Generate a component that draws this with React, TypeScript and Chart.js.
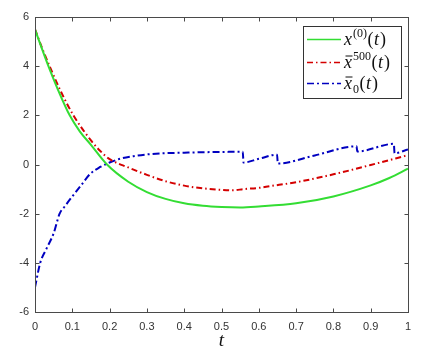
import React, { useEffect, useRef } from "react";
import { Chart, registerables } from "chart.js";

Chart.register(...registerables);

// ---- data ----
const xTicks = [0, 0.1, 0.2, 0.3, 0.4, 0.5, 0.6, 0.7, 0.8, 0.9, 1];
const xTickLabels = ["0", "0.1", "0.2", "0.3", "0.4", "0.5", "0.6", "0.7", "0.8", "0.9", "1"];
const yTicks = [-6, -4, -2, 0, 2, 4, 6];
const yTickLabels = ["-6", "-4", "-2", "0", "2", "4", "6"];

// x^(0)(t)
const tX0 = [0, 0.02, 0.036, 0.06, 0.093, 0.12, 0.15, 0.193, 0.25, 0.3, 0.35, 0.4, 0.45, 0.5, 0.55, 0.6, 0.7, 0.8, 0.9, 0.95, 1];
const valX0 = [5.5, 4.65, 4.0, 3.1, 2.0, 1.35, 0.8, 0.0, -0.7, -1.12, -1.4, -1.58, -1.68, -1.73, -1.75, -1.71, -1.58, -1.3, -0.85, -0.55, -0.17];

// xbar^500(t)
const tBar500 = [0, 0.02, 0.039, 0.07, 0.103, 0.15, 0.175, 0.2, 0.25, 0.3, 0.35, 0.4, 0.45, 0.5, 0.53, 0.56, 0.6, 0.63, 0.7, 0.8, 0.9, 1];
const valBar500 = [5.5, 4.7, 4.0, 2.95, 2.0, 0.98, 0.55, 0.22, -0.12, -0.42, -0.68, -0.86, -0.97, -1.03, -1.05, -1.0, -0.95, -0.88, -0.72, -0.4, -0.02, 0.38];

// xbar_0(t)
const tBar0 = [0, 0.014, 0.03, 0.05, 0.066, 0.08, 0.1, 0.125, 0.148, 0.175, 0.2, 0.23, 0.264, 0.3, 0.335, 0.4, 0.45, 0.5, 0.557, 0.559, 0.6, 0.649, 0.651, 0.75, 0.862, 0.864, 0.962, 0.964, 1];
const valBar0 = [-5.0, -4.0, -3.45, -2.8, -2.0, -1.7, -1.3, -0.82, -0.38, -0.1, 0.08, 0.24, 0.34, 0.41, 0.45, 0.48, 0.5, 0.51, 0.52, 0.08, 0.23, 0.4, 0.04, 0.37, 0.74, 0.53, 0.84, 0.46, 0.61];

const seriesColors = ["#33dd33", "#d40000", "#0000c0"];
const seriesDashes: number[][] = [[], [6, 3, 1.5, 3], [7, 3, 2, 3]];

const axisLabel = "t";

const toPts = (t: number[], v: number[]) => t.map((x, i) => ({ x, y: v[i] }));

// legend: parts of each math label
type Part = { t: string; kind: "it" | "up" | "sup" | "sub"; bar?: boolean };
const legendParts: Part[][] = [
  [{ t: "x", kind: "it" }, { t: "(0)", kind: "sup" }, { t: "(", kind: "up" }, { t: "t", kind: "it" }, { t: ")", kind: "up" }],
  [{ t: "x", kind: "it", bar: true }, { t: "500", kind: "sup" }, { t: "(", kind: "up" }, { t: "t", kind: "it" }, { t: ")", kind: "up" }],
  [{ t: "x", kind: "it", bar: true }, { t: "0", kind: "sub" }, { t: "(", kind: "up" }, { t: "t", kind: "it" }, { t: ")", kind: "up" }],
];

const SERIF = '"Liberation Serif", "DejaVu Serif", serif';
const fonts = {
  it: `italic 18px ${SERIF}`,
  up: `18px ${SERIF}`,
  sup: `12px ${SERIF}`,
  sub: `12px ${SERIF}`,
};

const axesPlugin = {
  id: "matlabAxes",
  afterDatasetsDraw(chart: any) {
    const { ctx, chartArea: a, scales } = chart;
    const L = Math.round(a.left) + 0.5;
    const R = Math.round(a.right) + 0.5;
    const T = Math.round(a.top) + 0.5;
    const B = Math.round(a.bottom) + 0.5;
    ctx.save();
    ctx.setLineDash([]);
    ctx.strokeStyle = "#4a4a4a";
    ctx.lineWidth = 1;
    ctx.strokeRect(L, T, R - L, B - T);
    const tl = 4;
    ctx.beginPath();
    xTicks.forEach((v) => {
      const px = Math.round(scales.x.getPixelForValue(v)) + 0.5;
      ctx.moveTo(px, B);
      ctx.lineTo(px, B - tl);
      ctx.moveTo(px, T);
      ctx.lineTo(px, T + tl);
    });
    yTicks.forEach((v) => {
      const py = Math.round(scales.y.getPixelForValue(v)) + 0.5;
      ctx.moveTo(L, py);
      ctx.lineTo(L + tl, py);
      ctx.moveTo(R, py);
      ctx.lineTo(R - tl, py);
    });
    ctx.stroke();

    // x axis title
    ctx.fillStyle = "#111";
    ctx.font = `italic 19px ${SERIF}`;
    ctx.textAlign = "center";
    ctx.textBaseline = "alphabetic";
    ctx.fillText(axisLabel, (a.left + a.right) / 2, 346);
    ctx.restore();
  },
  afterDraw(chart: any) {
    const { ctx } = chart;
    ctx.save();
    const bx = 303.5, by = 26.5, bw = 98, bh = 72;
    ctx.fillStyle = "#fff";
    ctx.fillRect(bx, by, bw, bh);
    ctx.strokeStyle = "#333";
    ctx.lineWidth = 1;
    ctx.setLineDash([]);
    ctx.strokeRect(bx, by, bw, bh);
    const rowY = [39.5, 62.5, 83.5];
    legendParts.forEach((parts, i) => {
      const y = rowY[i];
      ctx.strokeStyle = seriesColors[i];
      ctx.lineWidth = 1.5;
      ctx.setLineDash(seriesDashes[i]);
      ctx.beginPath();
      ctx.moveTo(307, y);
      ctx.lineTo(341, y);
      ctx.stroke();
      ctx.setLineDash([]);
      let x = 344;
      const base = y + 5;
      ctx.fillStyle = "#111";
      ctx.textAlign = "left";
      ctx.textBaseline = "alphabetic";
      parts.forEach((p) => {
        ctx.font = fonts[p.kind];
        const dy = p.kind === "sup" ? -8 : p.kind === "sub" ? 4 : 0;
        ctx.fillText(p.t, x, base + dy);
        const w = ctx.measureText(p.t).width;
        if (p.bar) {
          ctx.strokeStyle = "#111";
          ctx.lineWidth = 1;
          ctx.beginPath();
          ctx.moveTo(x + 1.5, base - 11.5);
          ctx.lineTo(x + w + 0.5, base - 11.5);
          ctx.stroke();
        }
        x += w + (p.kind === "it" ? 1 : 0.5);
      });
    });
    ctx.restore();
  },
};

export default function App() {
  const ref = useRef<HTMLCanvasElement>(null);
  useEffect(() => {
    const tickFont = { family: '"Liberation Sans", Arial, sans-serif', size: 11 };
    const chart = new Chart(ref.current as HTMLCanvasElement, {
      type: "line",
      data: {
        datasets: [
          {
            label: "x(0)(t)",
            data: toPts(tX0, valX0),
            borderColor: seriesColors[0],
            borderWidth: 2,
            borderDash: seriesDashes[0],
            pointRadius: 0,
            cubicInterpolationMode: "monotone",
          },
          {
            label: "xbar500(t)",
            data: toPts(tBar500, valBar500),
            borderColor: seriesColors[1],
            borderWidth: 2,
            borderDash: seriesDashes[1],
            pointRadius: 0,
            cubicInterpolationMode: "monotone",
          },
          {
            label: "xbar0(t)",
            data: toPts(tBar0, valBar0),
            borderColor: seriesColors[2],
            borderWidth: 2,
            borderDash: seriesDashes[2],
            pointRadius: 0,
            cubicInterpolationMode: "monotone",
          },
        ],
      },
      options: {
        animation: false,
        responsive: true,
        maintainAspectRatio: false,
        layout: { padding: { top: 17, right: 20, left: 0, bottom: 0 } },
        plugins: { legend: { display: false }, tooltip: { enabled: false } },
        scales: {
          x: {
            type: "linear",
            min: 0,
            max: 1,
            grid: { display: false, drawTicks: false },
            border: { display: false },
            afterBuildTicks: (s: any) => {
              s.ticks = xTicks.map((v) => ({ value: v }));
            },
            afterFit: (s: any) => {
              s.height = 38;
            },
            ticks: {
              font: tickFont,
              color: "#333",
              padding: 8,
              maxRotation: 0,
              autoSkip: false,
              callback: (v: any) => {
                const i = xTicks.findIndex((t) => Math.abs(t - Number(v)) < 1e-9);
                return i >= 0 ? xTickLabels[i] : "";
              },
            },
          },
          y: {
            type: "linear",
            min: -6,
            max: 6,
            grid: { display: false, drawTicks: false },
            border: { display: false },
            afterBuildTicks: (s: any) => {
              s.ticks = yTicks.map((v) => ({ value: v }));
            },
            afterFit: (s: any) => {
              s.width = 35;
            },
            ticks: {
              font: tickFont,
              color: "#333",
              padding: 6,
              autoSkip: false,
              callback: (v: any) => {
                const i = yTicks.findIndex((t) => Math.abs(t - Number(v)) < 1e-9);
                return i >= 0 ? yTickLabels[i] : "";
              },
            },
          },
        },
      },
      plugins: [axesPlugin],
    } as any);
    return () => chart.destroy();
  }, []);
  return (
    <div style={{ position: "fixed", left: 0, top: 0, width: 428, height: 350, background: "#fff" }}>
      <canvas ref={ref} />
    </div>
  );
}
